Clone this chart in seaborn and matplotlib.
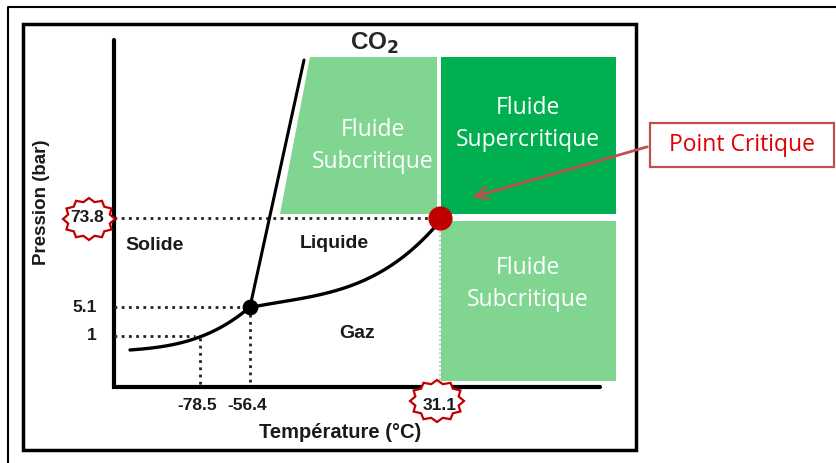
import numpy as np
import pandas as pd
import matplotlib
matplotlib.use("Agg")
import matplotlib.pyplot as plt
import seaborn as sns
from matplotlib.patches import Polygon, Rectangle

# data
temp_ticks = [-78.5, -56.4, 31.1]
pres_ticks = [1, 5.1, 73.8]
triple_point = (-56.4, 5.1)
critical_point = (31.1, 73.8)
region_labels = ["Solide", "Liquide", "Gaz"]
fluid_labels = ["Fluide\nSubcritique", "Fluide\nSupercritique", "Fluide\nSubcritique"]

# schematic layout (diagram is not to scale): value -> pixel position
tick_x_px = [200, 250, 440]
tick_y_px = [336, 307, 218]


def tx(t):
    return np.interp(t, temp_ticks, tick_x_px)


def py(p):
    return np.interp(p, pres_ticks, tick_y_px)


# sketched curve shapes (pixel space)
subl_x = [130, 165, 200, 228, 250]
subl_y = [350, 346, 337, 323, 307]
vap_x = [250, 290, 333, 383, 417, 440]
vap_y = [307, 302, 290, 270, 247, 220]
melt_x = [250, 304]
melt_y = [307, 60]

sns.set_theme(style="white")
plt.rcParams["font.family"] = ["Liberation Sans", "DejaVu Sans"]

fig = plt.figure(figsize=(8.37, 4.63), dpi=100)
ax = fig.add_axes([0, 0, 1, 1])
ax.set_xlim(0, 837)
ax.set_ylim(463, 0)
ax.axis("off")

# frames
ax.plot([8, 8, 840], [470, 7, 7], color="black", lw=1.5)
ax.add_patch(Rectangle((23, 24), 613, 426, fill=False, ec="black", lw=2.5))

light = "#80D691"
dark = "#00B050"
ax.add_patch(Polygon([[310, 57], [437, 57], [437, 214], [280, 214]], color=light, lw=0))
ax.add_patch(Rectangle((441, 57), 175, 157, color=dark, lw=0))
ax.add_patch(Rectangle((441, 221), 175, 160, color=light, lw=0))

# axes lines
ax.plot([114, 114, 600], [40, 387, 387], color="black", lw=3, solid_joinstyle="miter")

# dotted guides
dot = (0, (1, 1.6))
cx, cy = tx(critical_point[0]), py(critical_point[1])
trx, try_ = tx(triple_point[0]), py(triple_point[1])
ax.plot([114, cx], [cy, cy], color="#222222", lw=2, ls=dot)
ax.plot([114, trx], [try_, try_], color="#222222", lw=2, ls=dot)
ax.plot([trx, trx], [try_, 387], color="#222222", lw=2, ls=dot)
ax.plot([114, 195], [py(1), py(1)], color="#222222", lw=2, ls=dot)
ax.plot([tx(-78.5), tx(-78.5)], [338, 387], color="#222222", lw=2, ls=dot)
ax.plot([cx, cx], [cy, 387], color="#bbbbbb", lw=1.2, ls=dot)

# phase curves
xs = np.linspace(subl_x[0], subl_x[-1], 60)
ys = np.polyval(np.polyfit(subl_x, subl_y, 3), xs)
sns.lineplot(x=xs, y=ys, sort=False, color="black", lw=2.4, ax=ax)
xv = np.linspace(vap_x[0], vap_x[-1], 80)
yv = np.polyval(np.polyfit(vap_x, vap_y, 3), xv)
sns.lineplot(x=xv, y=yv, sort=False, color="black", lw=2.4, ax=ax)
sns.lineplot(x=melt_x, y=melt_y, sort=False, color="black", lw=2.2, ax=ax)

# points
sns.scatterplot(x=[trx], y=[try_], s=110, color="black", edgecolor="black", ax=ax, zorder=5)
sns.scatterplot(x=[cx], y=[cy], s=260, color="#C00000", edgecolor="#C00000", ax=ax, zorder=5)


def star(x0, y0, rx, ry, n=12):
    ang = np.linspace(0, 2 * np.pi, 2 * n, endpoint=False) + np.pi / 2
    r = np.where(np.arange(2 * n) % 2 == 0, 1.0, 0.83)
    pts = np.column_stack([x0 + rx * r * np.cos(ang), y0 - ry * r * np.sin(ang)])
    ax.add_patch(Polygon(pts, closed=True, fc="white", ec="#C00000", lw=1.6, zorder=4))


# tick labels
bold = dict(fontweight="bold", color="#1a1a1a")
for p, lab in zip(pres_ticks, ["1", "5.1", "73.8"]):
    if p == 73.8:
        star(89, py(p) + 1, 26, 21)
    ax.text(104 if p == 73.8 else 97, py(p), lab, ha="right", va="center",
            fontsize=12.5, zorder=6, **bold)
for t, lab in zip(temp_ticks, ["-78.5", "-56.4", "31.1"]):
    if t == 31.1:
        star(437, 401, 27, 21)
    ax.text(tx(t) - (3 if t != 31.1 else 0), 406, lab, ha="center", va="center",
            fontsize=12.5, zorder=6, **bold)

ax.text(42, 202, "Pression (bar)", rotation=90, ha="center", va="center", fontsize=13.5, **bold)
ax.text(340, 433, "Température (°C)", ha="center", va="center", fontsize=14.5, **bold)
ax.text(374, 43, r"CO$_\mathbf{2}$", ha="center", va="center", fontsize=17.5, fontweight="bold")

for lab, (x, y) in zip(region_labels, [(155, 246), (334, 243), (357, 334)]):
    ax.text(x, y, lab, ha="center", va="center", fontsize=14, **bold)

for lab, (x, y) in zip(fluid_labels, [(373, 146), (528, 124), (528, 284)]):
    ax.text(x, y, lab, ha="center", va="center", fontsize=16.5, color="white",
            family="Open Sans", linespacing=1.45)

# callout
ax.add_patch(Rectangle((650, 123), 184, 44, fill=False, ec="#C0504D", lw=1.6))
ax.text(742, 145, "Point Critique", ha="center", va="center", fontsize=16.5,
        color="#E00000", family="Open Sans")
ax.annotate("", xy=(470, 198), xytext=(650, 146),
            arrowprops=dict(arrowstyle="->,head_length=0.7,head_width=0.35",
                            color="#C0504D", lw=2))

fig.savefig("out.png", dpi=100)
